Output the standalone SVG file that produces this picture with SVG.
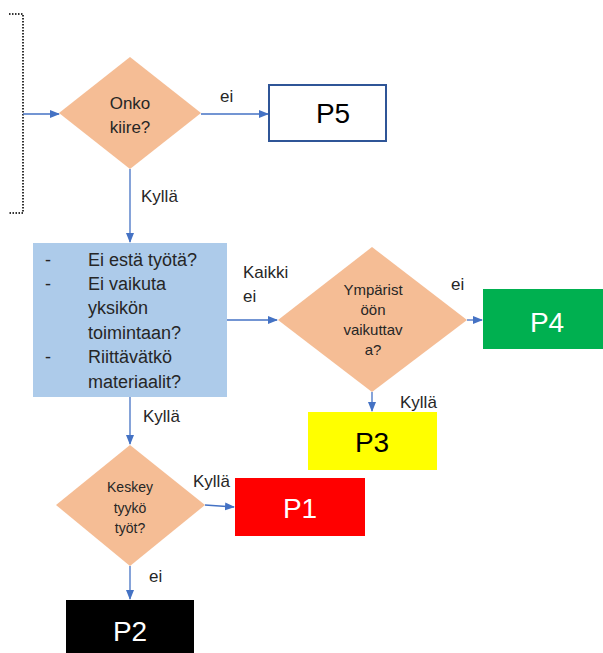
<svg xmlns="http://www.w3.org/2000/svg" width="603" height="653" viewBox="0 0 603 653">
<style>
text{font-family:"Liberation Sans","DejaVu Sans",sans-serif;fill:#262626}
.lbl{font-size:17px}
.dt{font-size:15px;text-anchor:middle}
.dt3{font-size:14px;text-anchor:middle}
.bx{font-size:18px}
.p{font-size:28px;text-anchor:middle}
.w{fill:#fff}
.k{fill:#000}
.dia{fill:#F5BD95}
.c{stroke:#4472C4;stroke-width:1.3;fill:none;marker-end:url(#ah)}
</style>
<defs>
<marker id="ah" markerWidth="10" markerHeight="10" refX="9" refY="5" orient="auto" markerUnits="userSpaceOnUse">
<path d="M0,1 L10,5 L0,9 Z" fill="#4472C4"/>
</marker>
</defs>
<g id="bracket">
<path d="M9,14 H23 V213 H9" fill="none" stroke="#333" stroke-width="2" stroke-dasharray="1.5,1.5"/>
</g>
<g id="connectors">
<line class="c" x1="23" y1="114" x2="59" y2="114"/>
<line class="c" x1="201" y1="114" x2="268" y2="114"/>
<line class="c" x1="130" y1="169" x2="130" y2="242"/>
<line class="c" x1="227" y1="320" x2="277" y2="320"/>
<line class="c" x1="467" y1="320" x2="482" y2="320"/>
<line class="c" x1="372" y1="392" x2="372" y2="411"/>
<line class="c" x1="130" y1="397" x2="130" y2="444"/>
<line class="c" x1="205" y1="505" x2="234" y2="507"/>
<line class="c" x1="130" y1="566" x2="130" y2="599"/>
</g>
<g id="labels">
<text class="lbl" x="220" y="102">ei</text>
<text class="lbl" x="141" y="202">Kyllä</text>
<text class="lbl" x="243" y="278">Kaikki</text>
<text class="lbl" x="243" y="302">ei</text>
<text class="lbl" x="451" y="290">ei</text>
<text class="lbl" x="400" y="408">Kyllä</text>
<text class="lbl" x="143" y="422">Kyllä</text>
<text class="lbl" x="193" y="487">Kyllä</text>
<text class="lbl" x="149" y="582">ei</text>
</g>
<g id="d1">
<polygon class="dia" points="130,57 201,113 130,169 59,113"/>
<text class="lbl" x="130" y="109" text-anchor="middle">Onko</text>
<text class="lbl" x="130" y="133" text-anchor="middle">kiire?</text>
</g>
<g id="p5">
<rect x="269" y="85" width="117" height="56" fill="#fff" stroke="#2F5597" stroke-width="2"/>
<text class="p k" x="333" y="123">P5</text>
</g>
<g id="box">
<rect x="33" y="243" width="194" height="154" fill="#ADCBEA"/>
<text class="bx" x="45" y="266">-</text>
<text class="bx" x="88" y="266">Ei estä työtä?</text>
<text class="bx" x="45" y="290">-</text>
<text class="bx" x="88" y="290">Ei vaikuta</text>
<text class="bx" x="88" y="314">yksikön</text>
<text class="bx" x="88" y="339">toimintaan?</text>
<text class="bx" x="45" y="363">-</text>
<text class="bx" x="88" y="363">Riittävätkö</text>
<text class="bx" x="88" y="388">materiaalit?</text>
</g>
<g id="d2">
<polygon class="dia" points="372,247 467,320 372,392 278,320"/>
<text class="dt" x="373" y="295">Ympärist</text>
<text class="dt" x="373" y="315">öön</text>
<text class="dt" x="373" y="335">vaikuttav</text>
<text class="dt" x="373" y="355">a?</text>
</g>
<g id="p4">
<rect x="483" y="289" width="120" height="60" fill="#00B050"/>
<text class="p w" x="547" y="332">P4</text>
</g>
<g id="p3">
<rect x="308" y="412" width="129" height="58" fill="#FFFF00"/>
<text class="p k" x="372" y="452">P3</text>
</g>
<g id="d3">
<polygon class="dia" points="130,445 205,505 130,566 56,505"/>
<text class="dt3" x="130" y="492">Keskey</text>
<text class="dt3" x="130" y="513">tyykö</text>
<text class="dt3" x="130" y="533">työt?</text>
</g>
<g id="p1">
<rect x="235" y="478" width="130" height="58" fill="#FF0000"/>
<text class="p w" x="300" y="518">P1</text>
</g>
<g id="p2">
<rect x="66" y="600" width="128" height="53" fill="#000"/>
<text class="p w" x="130" y="641">P2</text>
</g>
</svg>
